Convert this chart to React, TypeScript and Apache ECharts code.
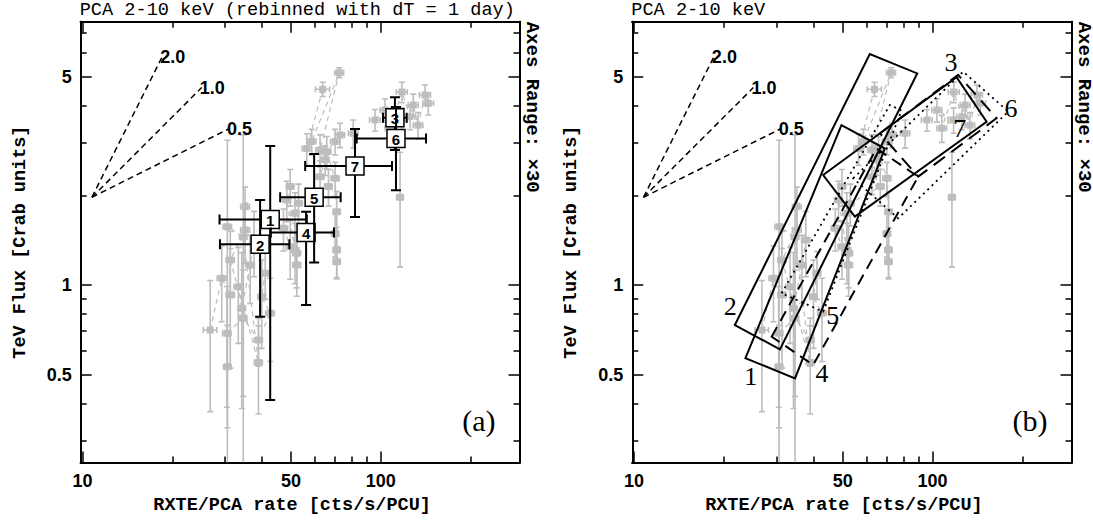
import React, { useEffect, useRef } from "react";
import * as echarts from "echarts";

// ---------- axes ----------
const X_MIN = 9.86;
const X_MAX = 292;
const Y_MIN = 0.2537;
const Y_MAX = 7.65;

const xMajorTicks = [10, 50, 100];
const xMinorTicks = [20, 30, 40, 60, 70, 80, 90, 200];
const yMajorTicks = [0.5, 1, 5];
const yMinorTicks = [0.3, 0.4, 0.6, 0.7, 0.8, 0.9, 2, 3, 4, 6, 7];

const panelTitles = ["PCA 2-10 keV (rebinned with dT = 1 day)", "PCA 2-10 keV"];
const panelTags = ["(a)", "(b)"];
const xName = "RXTE/PCA rate [cts/s/PCU]";
const yName = "TeV Flux [Crab units]";
const rangeNote = "Axes Range: \u00d730";

// ---------- gray (individual) measurements ----------
const grayGroup = [
  0, 0, 0, 0, 0, 0, 0,
  1, 1, 1, 1, 1, 1,
  2, 2, 2, 2, 2, 2, 2,
  3, 3, 3, 3, 3, 3, 3,
  4, 4, 4, 4, 4, 4, 4, 4, 4, 4,
  5, 5, 5, 5, 5, 5, 5, 5, 5,
  6, 6, 6, 6, 6, 6, 6, 6, 6, 6,
  7,
];
const grayX = [
  26.8, 29.3, 31.3, 33.3, 34.2, 36.5, 37.6,
  30.5, 34.6, 38.9, 42.6, 39.9, 41.0,
  30.6, 30.6, 34.6, 38.9, 31.3, 35.1, 35.1,
  47.2, 49.7, 52.3, 52.3, 51.6, 48.4, 49.7,
  63.9, 56.5, 58.7, 72.6, 62.6, 65.1, 62.6, 66.8, 53.0, 51.6,
  70.3, 71.2, 71.2, 71.2, 70.3, 65.9, 70.3, 73.0, 80.9,
  95.7, 103.4, 117.6, 107.4, 117.8, 125.4, 128.6, 133.4, 140.8, 144.4,
  116.1,
];
const grayY = [
  0.706, 1.053, 0.926, 0.987, 0.835, 1.167, 1.416,
  0.689, 0.773, 0.654, 0.804, 0.913, 1.095,
  0.532, 1.57, 1.45, 0.549, 1.213, 1.53, 1.83,
  1.55, 1.345, 1.278, 1.167, 1.31, 1.93, 2.14,
  4.54, 2.87, 3.03, 5.16, 2.84, 2.63, 2.31, 2.14, 1.88, 1.74,
  1.49, 1.197, 1.31, 1.76, 2.28, 2.8, 3.03, 3.19, 3.23,
  3.58, 3.87, 3.58, 3.36, 4.44, 3.67, 4.02, 3.44, 4.34, 4.07,
  1.97,
];
const grayXErr = [
  1.4, 1.0, 1.0, 1.1, 1.0, 1.2, 1.2,
  1.0, 1.0, 1.2, 1.4, 1.2, 1.2,
  0.9, 1.0, 1.0, 1.2, 1.0, 1.2, 1.2,
  1.5, 1.5, 1.6, 1.6, 1.6, 1.5, 1.5,
  3.5, 2.0, 2.0, 2.5, 2.0, 2.0, 2.0, 2.0, 1.6, 1.6,
  2.0, 2.0, 2.0, 2.0, 2.2, 2.2, 2.5, 2.5, 3.0,
  4, 4, 5, 4, 5, 5, 5, 5, 6, 6,
  3,
];
const grayYErr = [
  0.33, 0.3, 0.4, 0.35, 0.45, 0.3, 0.35,
  0.3, 0.35, 0.12, 0.25, 0.3, 0.2,
  0.2, 1.49, 1.74, 0.18, 0.3, 0.35, 0.3,
  0.25, 0.3, 0.3, 0.25, 0.3, 0.3, 0.3,
  0.25, 0.35, 0.3, 0.2, 0.35, 0.3, 0.3, 0.3, 0.3, 0.3,
  0.25, 0.15, 0.25, 0.3, 0.3, 0.35, 0.3, 0.3, 0.35,
  0.3, 0.35, 0.35, 0.35, 0.35, 0.35, 0.35, 0.35, 0.35, 0.35,
  0.82,
];

// ---------- averaged groups 1..7 (panel a) ----------
const nightNames = ["1", "2", "3", "4", "5", "6", "7"];
const nightX = [42.6, 39.4, 111.6, 56.2, 59.8, 112.5, 82.0];
const nightXLo = [28.8, 28.9, 101.8, 42.8, 46.0, 83.1, 55.8];
const nightXHi = [56.5, 49.4, 122.2, 69.7, 73.4, 141.9, 109.1];
const nightY = [1.66, 1.37, 3.64, 1.5, 1.97, 3.1, 2.51];
const nightYLo = [0.411, 0.783, 2.84, 0.857, 1.19, 2.08, 1.69];
const nightYHi = [2.93, 1.93, 4.27, 1.76, 2.75, 3.96, 3.34];

// ---------- slope guides ----------
const slopeValues = [2.0, 1.0, 0.5];
const slopeLabels = ["2.0", "1.0", "0.5"];
const slopeOrigin = [10.75, 1.97];
const slopeEndX = [18.5, 25.1, 31.0];

// ---------- correlation boxes (panel b) ----------
const boxNames = ["1", "2", "3", "4", "5", "6", "7"];
const boxXs = [
  [23.6, 49.5, 69.2, 34.6],
  [21.75, 61.6, 88.8, 30.8],
  [42.98, 120.3, 151.7, 54.9],
  [28.9, 64.9, 89.5, 39.8],
  [31.2, 71.9, 78.7, 43.0],
  [54.2, 126.6, 179.2, 76.7],
  [66.6, 121.8, 163.9, 89.5],
];
const boxYs = [
  [0.568, 3.44, 2.87, 0.486],
  [0.734, 5.96, 5.13, 0.608],
  [2.34, 4.98, 3.53, 1.696],
  [0.671, 2.87, 2.31, 0.539],
  [0.938, 4.02, 3.85, 0.814],
  [2.28, 5.2, 3.82, 1.674],
  [3.23, 5.07, 3.63, 2.31],
];
const boxLineKind = ["solid", "solid", "solid", "dash", "dot", "dot", "longdash"];
const boxLabelX = [24.6, 21.0, 115.2, 42.6, 46.3, 183, 123.4];
const boxLabelY = [0.492, 0.846, 5.6, 0.505, 0.793, 3.92, 3.36];

const GRAY = "#bdbdbd";

function dashOf(kind: string): number[] | null {
  if (kind === "dash") return [11, 7];
  if (kind === "dot") return [2, 4];
  if (kind === "longdash") return [14, 8];
  return null;
}

function errorBarRender(color: string, lw: number, cap: number, sq: number, withBox: boolean) {
  return (params: any, api: any) => {
    const x = api.value(0);
    const y = api.value(1);
    const xlo = api.value(2);
    const xhi = api.value(3);
    const ylo = api.value(4);
    const yhi = api.value(5);
    const clipped = api.value(6) === 1;
    const p = api.coord([x, y]);
    const pl = api.coord([xlo, y]);
    const ph = api.coord([xhi, y]);
    const pb = api.coord([x, ylo]);
    const pt = api.coord([x, yhi]);
    const st = { stroke: color, lineWidth: lw };
    const children: any[] = [
      { type: "line", shape: { x1: pl[0], y1: p[1], x2: ph[0], y2: p[1] }, style: st },
      { type: "line", shape: { x1: p[0], y1: pb[1], x2: p[0], y2: pt[1] }, style: st },
      { type: "line", shape: { x1: pl[0], y1: p[1] - cap, x2: pl[0], y2: p[1] + cap }, style: st },
      { type: "line", shape: { x1: ph[0], y1: p[1] - cap, x2: ph[0], y2: p[1] + cap }, style: st },
      { type: "line", shape: { x1: p[0] - cap, y1: pt[1], x2: p[0] + cap, y2: pt[1] }, style: st },
    ];
    if (!clipped) {
      children.push({ type: "line", shape: { x1: p[0] - cap, y1: pb[1], x2: p[0] + cap, y2: pb[1] }, style: st });
    }
    if (withBox) {
      children.push({
        type: "rect",
        shape: { x: p[0] - 9, y: p[1] - 9, width: 18, height: 18 },
        style: { fill: "#fff", stroke: "#000", lineWidth: 1.5 },
      });
      children.push({
        type: "text",
        x: p[0],
        y: p[1] + 1,
        style: {
          text: nightNames[params.dataIndex],
          font: 'bold 15px "Liberation Sans"',
          fill: "#000",
          align: "center",
          verticalAlign: "middle",
        },
      });
    } else {
      children.push({
        type: "rect",
        shape: { x: p[0] - sq / 2, y: p[1] - sq / 2, width: sq, height: sq },
        style: { fill: color },
      });
    }
    return { type: "group", children };
  };
}

function buildOption() {
  const grids = [
    { left: 80.7, top: 21.7, width: 438.8, height: 440.8 },
    { left: 632.3, top: 21.7, width: 439.2, height: 440.8 },
  ];
  const axisLine = { show: true, onZero: false, lineStyle: { color: "#000", width: 2 } };
  const tickStyle = { color: "#000", width: 1.5 };
  const labelFont = {
    color: "#000",
    fontFamily: "Liberation Sans",
    fontWeight: "bold",
    fontSize: 18,
  };
  const nameFont = {
    color: "#000",
    fontFamily: "Liberation Mono",
    fontWeight: "bold",
    fontSize: 18.5,
  };
  const xAxis: any[] = [];
  const yAxis: any[] = [];
  for (let g = 0; g < 2; g++) {
    const xs = [
      { pos: "bottom", ticks: xMajorTicks, len: 11, main: true },
      { pos: "bottom", ticks: xMinorTicks, len: 6, main: false },
      { pos: "top", ticks: xMajorTicks, len: 11, main: false },
      { pos: "top", ticks: xMinorTicks, len: 6, main: false },
    ];
    xs.forEach((s) =>
      xAxis.push({
        type: "log",
        logBase: 10,
        gridIndex: g,
        position: s.pos,
        min: X_MIN,
        max: X_MAX,
        axisLine,
        axisTick: { show: true, inside: true, length: s.len, customValues: s.ticks, lineStyle: tickStyle },
        axisLabel: s.main
          ? { show: true, customValues: s.ticks, margin: 9, ...labelFont, formatter: (v: number) => String(v) }
          : { show: false },
        splitLine: { show: false },
        minorTick: { show: false },
        name: s.main ? xName : "",
        nameLocation: "middle",
        nameGap: 33,
        nameTextStyle: { ...nameFont, padding: [0, 16, 0, 0] },
      })
    );
    const ys = [
      { pos: "left", ticks: yMajorTicks, len: 11, main: true },
      { pos: "left", ticks: yMinorTicks, len: 6, main: false },
      { pos: "right", ticks: yMajorTicks, len: 11, main: false },
      { pos: "right", ticks: yMinorTicks, len: 6, main: false },
    ];
    ys.forEach((s) =>
      yAxis.push({
        type: "log",
        logBase: 10,
        gridIndex: g,
        position: s.pos,
        min: Y_MIN,
        max: Y_MAX,
        axisLine,
        axisTick: { show: true, inside: true, length: s.len, customValues: s.ticks, lineStyle: tickStyle },
        axisLabel: s.main
          ? { show: true, customValues: s.ticks, margin: 9, ...labelFont, formatter: (v: number) => String(v) }
          : { show: false },
        splitLine: { show: false },
        minorTick: { show: false },
        name: s.main ? yName : "",
        nameLocation: "middle",
        nameGap: 51,
        nameTextStyle: nameFont,
      })
    );
  }

  const grayData = grayX.map((x, i) => {
    const lo = grayY[i] - grayYErr[i];
    const clipped = lo <= Y_MIN;
    return [x, grayY[i], x - grayXErr[i], x + grayXErr[i], clipped ? Y_MIN : lo, grayY[i] + grayYErr[i], clipped ? 1 : 0];
  });
  const nightData = nightX.map((x, i) => [x, nightY[i], nightXLo[i], nightXHi[i], nightYLo[i], nightYHi[i], 0]);

  const groups = Array.from(new Set(grayGroup));
  const series: any[] = [];
  for (let g = 0; g < 2; g++) {
    const ax = { xAxisIndex: 4 * g, yAxisIndex: 4 * g };
    groups.forEach((gr) => {
      const pts = grayX
        .map((x, i) => [x, grayY[i], grayGroup[i]])
        .filter((d) => d[2] === gr)
        .map((d) => [d[0], d[1]]);
      if (pts.length < 2) return;
      series.push({
        type: "line",
        ...ax,
        data: pts,
        symbol: "none",
        silent: true,
        z: 1,
        lineStyle: { color: GRAY, width: 1.2, type: [5, 4] },
      });
    });
    series.push({
      type: "custom",
      ...ax,
      data: grayData,
      clip: true,
      silent: true,
      z: 2,
      encode: { x: [0, 2, 3], y: [1, 4, 5] },
      renderItem: errorBarRender(GRAY, 1.6, 3, 7, false),
    });
    slopeValues.forEach((s, k) => {
      const ex = slopeEndX[k];
      const ey = slopeOrigin[1] * Math.pow(ex / slopeOrigin[0], s);
      series.push({
        type: "line",
        ...ax,
        data: [slopeOrigin, [ex, ey]],
        symbol: "none",
        silent: true,
        z: 3,
        lineStyle: { color: "#000", width: 1.5, type: [6, 4] },
      });
    });
    series.push({
      type: "custom",
      ...ax,
      silent: true,
      z: 3,
      data: slopeValues.map((s, k) => [slopeEndX[k], slopeOrigin[1] * Math.pow(slopeEndX[k] / slopeOrigin[0], s)]),
      renderItem: (params: any, api: any) => {
        const p = api.coord([api.value(0), api.value(1)]);
        return {
          type: "text",
          x: p[0] - 2,
          y: p[1] + 9,
          style: {
            text: slopeLabels[params.dataIndex],
            font: 'bold 18px "Liberation Sans"',
            fill: "#000",
            align: "left",
            verticalAlign: "bottom",
          },
        };
      },
    });
    if (g === 0) {
      series.push({
        type: "custom",
        ...ax,
        data: nightData,
        clip: true,
        silent: true,
        z: 5,
        encode: { x: [0, 2, 3], y: [1, 4, 5] },
        renderItem: errorBarRender("#000", 2, 5, 0, true),
      });
    } else {
      series.push({
        type: "custom",
        ...ax,
        silent: true,
        clip: true,
        z: 5,
        encode: { x: [0, 2, 4, 6], y: [1, 3, 5, 7] },
        data: boxXs.map((xsArr, i) => [
          xsArr[0], boxYs[i][0], xsArr[1], boxYs[i][1], xsArr[2], boxYs[i][2], xsArr[3], boxYs[i][3],
        ]),
        renderItem: (params: any, api: any) => {
          const pts: number[][] = [];
          for (let k = 0; k < 4; k++) pts.push(api.coord([api.value(2 * k), api.value(2 * k + 1)]));
          const kind = boxLineKind[params.dataIndex];
          const dash = dashOf(kind);
          const style: any = { fill: "none", stroke: "#000", lineWidth: kind === "dot" ? 1.8 : 2 };
          if (dash) style.lineDash = dash;
          return { type: "polygon", shape: { points: pts }, style };
        },
      });
      series.push({
        type: "custom",
        ...ax,
        silent: true,
        z: 6,
        data: boxLabelX.map((x, i) => [x, boxLabelY[i]]),
        renderItem: (params: any, api: any) => {
          const p = api.coord([api.value(0), api.value(1)]);
          return {
            type: "text",
            x: p[0],
            y: p[1],
            style: {
              text: boxNames[params.dataIndex],
              font: '26px "Liberation Serif"',
              fill: "#000",
              align: "center",
              verticalAlign: "middle",
            },
          };
        },
      });
    }
  }

  const graphic: any[] = [];
  grids.forEach((gr, g) => {
    graphic.push({
      type: "text",
      x: gr.left + gr.width + 12,
      y: gr.top,
      rotation: -Math.PI / 2,
      silent: true,
      style: {
        text: rangeNote,
        font: 'bold 19px "Liberation Mono"',
        fill: "#000",
        align: "left",
        verticalAlign: "middle",
      },
    });
    graphic.push({
      type: "text",
      x: gr.left + gr.width - 24,
      y: gr.top + gr.height - 42,
      silent: true,
      style: {
        text: panelTags[g],
        font: '30px "Liberation Serif"',
        fill: "#000",
        align: "right",
        verticalAlign: "middle",
      },
    });
  });

  return {
    animation: false,
    backgroundColor: "#fff",
    title: grids.map((gr, g) => ({
      text: panelTitles[g],
      left: gr.left - 1,
      top: 1,
      padding: 0,
      textStyle: { color: "#000", fontFamily: "Liberation Mono", fontWeight: "normal", fontSize: 18.6 },
    })),
    grid: grids.map((gr) => ({ ...gr, containLabel: false })),
    xAxis,
    yAxis,
    series,
    graphic,
  };
}

export default function App() {
  const ref = useRef<HTMLDivElement>(null);
  useEffect(() => {
    if (!ref.current) return;
    const chart = echarts.init(ref.current, null, { renderer: "svg" });
    chart.setOption(buildOption() as any);
    return () => chart.dispose();
  }, []);
  return (
    <div
      ref={ref}
      style={{ position: "fixed", left: 0, top: 0, width: 1093, height: 522, background: "#fff" }}
    />
  );
}
